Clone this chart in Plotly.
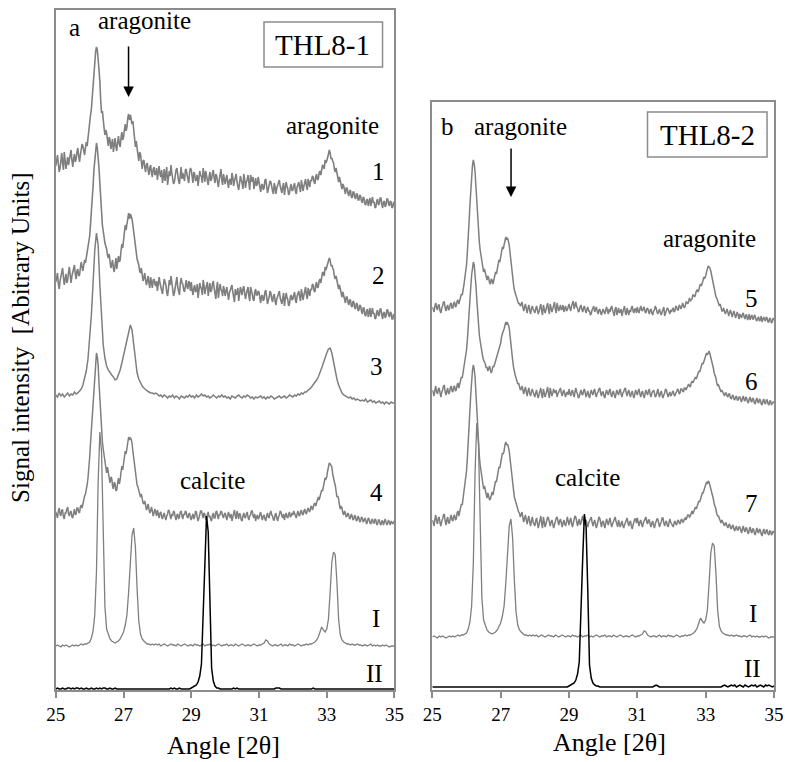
import numpy as np
import plotly.graph_objects as go

W, H = 785, 762

# Diffractogram intensities (arbitrary units, relative to each trace's own baseline).
# Each list covers 25-35 deg 2-theta at an even step (0.025 deg for the raw scans,
# 0.05 deg for the smoother ones); the angle grid is rebuilt from the list length.
sample_1 = [
    44, 49, 55, 46, 38, 42, 51, 57, 47, 40, 58, 52, 41, 47, 53, 45, 49, 56, 60, 50, 43, 51, 56, 48, 51, 58, 62, 54, 48, 55, 59, 66, 64, 58, 55, 62, 68, 64, 73, 79,
    84, 95, 101, 114, 122, 138, 150, 158, 163, 160, 151, 141, 129, 110, 97, 99, 93, 82, 75, 80, 77, 68, 64, 73, 70, 61, 66, 71, 58, 65, 72, 63, 59, 68, 74, 66, 63, 72, 78, 70,
    73, 80, 86, 79, 83, 92, 96, 90, 95, 91, 86, 89, 82, 70, 63, 69, 64, 55, 49, 58, 56, 46, 41, 49, 50, 43, 38, 45, 47, 40, 35, 42, 45, 37, 33, 41, 43, 35, 36, 42,
    30, 38, 44, 36, 33, 40, 27, 33, 41, 29, 36, 43, 25, 32, 39, 34, 45, 37, 31, 26, 28, 35, 40, 42, 34, 29, 26, 38, 43, 31, 37, 33, 29, 40, 41, 35, 32, 27, 38, 42,
    40, 33, 27, 38, 36, 29, 30, 35, 24, 31, 39, 35, 33, 27, 42, 36, 28, 39, 35, 30, 25, 33, 38, 29, 31, 37, 40, 32, 27, 36, 34, 28, 23, 30, 37, 41, 30, 25, 36, 31,
    26, 31, 35, 27, 22, 30, 31, 25, 37, 33, 24, 29, 33, 36, 28, 22, 20, 27, 34, 30, 27, 21, 36, 31, 22, 28, 30, 35, 25, 20, 35, 29, 28, 33, 21, 26, 32, 24, 26, 33,
    29, 23, 18, 25, 26, 20, 22, 30, 31, 24, 17, 21, 24, 29, 28, 22, 19, 16, 27, 23, 16, 22, 25, 28, 30, 24, 20, 17, 23, 27, 15, 21, 28, 24, 21, 15, 17, 23, 26, 19,
    20, 24, 27, 19, 16, 23, 25, 28, 22, 18, 30, 26, 19, 24, 28, 31, 24, 20, 31, 27, 23, 30, 29, 34, 33, 28, 26, 33, 36, 30, 31, 37, 39, 35, 42, 45, 44, 41, 50, 47,
    49, 55, 56, 60, 57, 51, 52, 49, 47, 41, 38, 42, 36, 30, 28, 33, 30, 25, 21, 26, 24, 19, 16, 22, 22, 17, 14, 19, 20, 13, 12, 18, 18, 13, 11, 16, 16, 10, 10, 15,
    14, 9, 7, 13, 12, 6, 5, 10, 11, 4, 9, 12, 4, 8, 13, 7, 8, 2, 3, 9, 11, 5, 6, 12, 12, 6, 2, 8, 9, 3, 5, 11, 11, 6, 4, 9, 8, 2, 3, 8,
    6,
]
sample_2 = [
    38, 44, 47, 36, 31, 39, 44, 50, 52, 43, 35, 41, 46, 37, 40, 48, 53, 45, 37, 44, 48, 53, 55, 46, 41, 49, 51, 44, 45, 52, 58, 53, 49, 55, 60, 57, 62, 67, 71, 77,
    84, 96, 106, 122, 134, 150, 160, 171, 177, 172, 164, 152, 137, 118, 103, 95, 89, 81, 77, 74, 71, 65, 62, 66, 59, 52, 55, 60, 52, 48, 55, 62, 51, 57, 64, 58, 60, 69, 76, 72,
    78, 88, 95, 90, 95, 103, 107, 101, 106, 104, 101, 95, 88, 80, 72, 66, 61, 58, 55, 49, 47, 52, 45, 39, 42, 47, 40, 35, 39, 44, 37, 32, 43, 38, 32, 40, 41, 36, 34, 39,
    29, 36, 43, 37, 32, 27, 26, 34, 41, 38, 35, 28, 24, 31, 40, 35, 44, 38, 30, 24, 27, 33, 39, 43, 33, 28, 25, 36, 42, 37, 36, 30, 28, 34, 40, 33, 31, 39, 37, 29,
    38, 30, 25, 32, 35, 28, 29, 36, 22, 29, 37, 33, 31, 25, 40, 35, 26, 31, 34, 38, 24, 30, 37, 28, 30, 36, 39, 32, 25, 21, 33, 38, 22, 29, 36, 31, 29, 24, 34, 30,
    24, 29, 33, 26, 20, 27, 30, 34, 35, 28, 22, 18, 31, 25, 27, 32, 19, 24, 33, 29, 25, 31, 34, 27, 21, 26, 29, 33, 24, 19, 33, 27, 26, 21, 19, 28, 31, 25, 25, 29,
    28, 22, 17, 24, 25, 19, 21, 28, 30, 23, 16, 20, 23, 29, 27, 21, 18, 24, 26, 19, 15, 21, 24, 28, 29, 22, 19, 16, 22, 27, 14, 20, 27, 23, 20, 14, 16, 23, 25, 20,
    21, 25, 28, 20, 17, 24, 26, 29, 23, 19, 31, 26, 20, 25, 29, 33, 25, 21, 32, 28, 24, 31, 30, 36, 35, 29, 28, 35, 38, 32, 33, 39, 41, 37, 45, 48, 47, 44, 53, 50,
    53, 58, 59, 62, 60, 54, 55, 52, 50, 44, 41, 44, 39, 33, 31, 35, 31, 26, 23, 28, 25, 20, 17, 23, 23, 18, 15, 20, 20, 14, 13, 19, 18, 12, 11, 17, 16, 9, 10, 15,
    14, 9, 6, 12, 12, 5, 4, 9, 11, 3, 8, 12, 3, 7, 12, 6, 7, 1, 2, 8, 10, 4, 5, 11, 11, 5, 1, 7, 8, 2, 4, 10, 10, 5, 3, 8, 7, 1, 1, 6,
    3,
]
sample_3 = [
    10, 8, 12, 9, 11, 8, 10, 12, 9, 11, 10, 13, 11, 12, 14, 16, 20, 26, 34, 46,
    65, 90, 122, 155, 172, 160, 120, 85, 60, 47, 39, 35, 32, 30, 28, 25, 26, 30, 35, 42,
    50, 58, 67, 75, 80, 75, 60, 43, 32, 26, 22, 19, 17, 15, 14, 13, 12, 12, 11, 12,
    11, 9, 10, 8, 10, 9, 7, 9, 8, 10, 7, 9, 8, 6, 9, 8, 7, 9, 8, 10,
    8, 9, 7, 10, 8, 9, 11, 9, 10, 8, 9, 7, 8, 10, 8, 7, 9, 8, 10, 8,
    9, 7, 8, 6, 9, 8, 7, 9, 10, 8, 7, 9, 8, 10, 9, 7, 8, 6, 8, 7,
    8, 9, 7, 8, 6, 8, 7, 9, 8, 6, 7, 8, 9, 7, 8, 9, 7, 8, 10, 9,
    8, 10, 9, 11, 10, 12, 11, 13, 13, 15, 16, 18, 20, 22, 25, 28, 32, 37, 42, 48,
    52, 56, 57, 52, 42, 33, 26, 20, 15, 12, 10, 9, 8, 7, 8, 6, 7, 5, 6, 5,
    4, 5, 4, 6, 3, 4, 5, 3, 4, 2, 3, 4, 2, 3, 1, 3, 2, 1, 3, 2,
    2,
]
sample_4 = [
    13, 9, 7, 14, 17, 11, 9, 15, 15, 8, 6, 12, 12, 16, 18, 11, 9, 13, 14, 8, 7, 12, 16, 10, 11, 17, 17, 13, 12, 18, 20, 17, 22, 26, 29, 31, 35, 40, 47, 56,
    68, 82, 95, 110, 126, 142, 156, 166, 172, 168, 160, 142, 124, 108, 94, 83, 76, 70, 66, 57, 52, 58, 53, 45, 42, 48, 47, 39, 36, 43, 41, 34, 35, 42, 47, 41, 45, 53, 59, 55,
    60, 68, 74, 71, 76, 84, 88, 85, 87, 86, 82, 74, 66, 60, 54, 46, 40, 38, 35, 30, 28, 31, 26, 22, 21, 24, 20, 15, 17, 21, 16, 12, 14, 18, 14, 9, 12, 16, 13, 9,
    15, 10, 7, 12, 13, 8, 6, 10, 12, 8, 5, 9, 11, 15, 14, 9, 6, 11, 9, 14, 13, 8, 5, 10, 11, 6, 8, 13, 14, 9, 6, 11, 10, 14, 13, 8, 7, 11, 12, 7,
    5, 9, 11, 6, 8, 14, 13, 8, 4, 7, 10, 14, 14, 9, 7, 12, 11, 6, 5, 10, 13, 8, 9, 5, 4, 10, 12, 7, 7, 13, 14, 9, 6, 11, 10, 14, 13, 9, 7, 11,
    12, 8, 5, 10, 13, 9, 7, 11, 4, 8, 11, 15, 9, 6, 14, 10, 6, 12, 10, 5, 4, 9, 12, 8, 7, 11, 13, 8, 5, 9, 10, 14, 14, 9, 7, 11, 4, 8, 10, 6,
    7, 11, 13, 8, 5, 9, 10, 6, 4, 9, 12, 8, 7, 12, 14, 10, 9, 5, 5, 10, 12, 7, 4, 8, 10, 14, 13, 9, 7, 11, 5, 9, 12, 8, 7, 11, 13, 8, 9, 12,
    10, 14, 12, 9, 7, 11, 14, 10, 9, 13, 15, 11, 10, 14, 16, 12, 11, 15, 17, 14, 13, 18, 19, 15, 17, 21, 22, 19, 22, 26, 28, 25, 28, 33, 35, 34, 38, 43, 47, 46,
    48, 54, 58, 62, 61, 60, 58, 51, 45, 43, 40, 33, 28, 29, 26, 20, 16, 19, 17, 12, 10, 14, 12, 8, 9, 12, 10, 6, 7, 11, 9, 5, 6, 10, 8, 4, 5, 9, 7, 3,
    4, 8, 7, 3, 4, 7, 5, 1, 3, 7, 6, 2, 1, 5, 6, 2, 2, 6, 5, 0, 1, 5, 5, 1, 0, 4, 4, 0, 3, 6, 3, 0, 2, 5, 2, 0, 4, 3, 1, 3,
    2,
]
sample_5 = [
    15, 12, 10, 16, 19, 14, 12, 17, 17, 11, 9, 14, 16, 20, 20, 14, 11, 15, 17, 12, 13, 18, 19, 14, 14, 19, 20, 15, 16, 21, 22, 18, 21, 26, 28, 27, 31, 37, 44, 50,
    57, 70, 82, 100, 117, 133, 147, 157, 162, 158, 150, 134, 117, 102, 90, 80, 72, 66, 62, 55, 50, 53, 50, 45, 42, 46, 44, 39, 38, 43, 42, 38, 42, 47, 50, 48, 52, 58, 62, 60,
    65, 71, 75, 73, 77, 82, 85, 83, 84, 81, 77, 69, 60, 52, 44, 38, 32, 29, 26, 25, 22, 18, 19, 16, 17, 20, 15, 11, 15, 18, 13, 9, 14, 17, 12, 8, 13, 16, 13, 10,
    9, 13, 16, 12, 8, 11, 14, 18, 11, 7, 17, 13, 9, 12, 15, 19, 12, 8, 18, 14, 10, 13, 16, 20, 13, 9, 19, 15, 11, 14, 17, 12, 13, 17, 10, 14, 16, 11, 12, 15,
    18, 14, 11, 16, 18, 21, 13, 16, 20, 15, 14, 10, 11, 15, 17, 13, 10, 14, 16, 12, 9, 13, 15, 11, 11, 7, 8, 12, 14, 16, 10, 13, 15, 11, 8, 12, 13, 9, 7, 11,
    13, 10, 8, 12, 15, 11, 8, 13, 10, 14, 16, 12, 9, 6, 13, 15, 7, 11, 14, 9, 10, 13, 6, 10, 13, 16, 9, 7, 14, 11, 7, 12, 10, 14, 16, 11, 9, 13, 13, 9,
    15, 11, 9, 13, 16, 12, 11, 14, 15, 10, 9, 13, 14, 11, 8, 12, 13, 9, 7, 11, 12, 16, 14, 10, 8, 11, 13, 9, 7, 10, 12, 15, 6, 9, 11, 14, 13, 10, 8, 12,
    10, 13, 14, 10, 11, 16, 15, 12, 12, 17, 16, 13, 15, 19, 16, 14, 16, 20, 20, 18, 20, 24, 21, 22, 23, 27, 27, 25, 27, 31, 32, 30, 32, 36, 38, 36, 39, 43, 45, 44,
    46, 50, 53, 56, 55, 54, 51, 45, 40, 38, 34, 29, 25, 24, 21, 18, 16, 18, 15, 11, 11, 14, 11, 8, 10, 13, 10, 6, 9, 12, 9, 5, 8, 11, 8, 4, 7, 10, 7, 3,
    8, 5, 4, 8, 9, 5, 3, 7, 7, 2, 4, 8, 2, 5, 7, 3, 3, 7, 6, 2, 1, 4, 5, 1, 2, 6, 0, 3, 5, 2, 1, 5, 4, 0, 0, 4, 3, -1, 0, 4,
    2,
]
sample_6 = [
    15, 11, 9, 15, 19, 13, 11, 16, 17, 12, 8, 13, 15, 19, 20, 13, 10, 14, 17, 11, 12, 17, 19, 14, 13, 18, 19, 14, 15, 20, 22, 17, 22, 26, 28, 27, 32, 37, 43, 49,
    55, 65, 76, 90, 104, 118, 130, 139, 143, 140, 132, 120, 106, 92, 79, 70, 64, 57, 52, 48, 45, 43, 41, 37, 38, 34, 36, 39, 35, 32, 35, 39, 38, 41, 43, 47, 49, 52, 56, 59,
    62, 68, 72, 74, 76, 81, 83, 81, 82, 80, 77, 69, 59, 52, 45, 38, 32, 30, 27, 23, 21, 22, 19, 15, 16, 19, 15, 11, 15, 18, 13, 9, 14, 17, 12, 9, 13, 16, 13, 10,
    8, 12, 15, 10, 7, 11, 14, 17, 10, 7, 16, 12, 8, 11, 15, 18, 11, 7, 17, 13, 9, 12, 16, 13, 12, 15, 8, 11, 13, 16, 17, 12, 9, 13, 15, 11, 8, 12, 13, 10,
    16, 12, 9, 13, 15, 11, 8, 13, 17, 13, 11, 7, 8, 12, 15, 11, 10, 14, 16, 12, 8, 11, 14, 10, 7, 11, 15, 12, 10, 14, 16, 11, 8, 12, 13, 16, 17, 12, 9, 13,
    13, 9, 7, 12, 15, 12, 10, 14, 16, 11, 8, 12, 14, 10, 7, 11, 15, 12, 10, 14, 16, 11, 8, 12, 13, 16, 17, 12, 9, 13, 15, 11, 8, 12, 14, 10, 7, 11, 15, 12,
    10, 14, 16, 11, 8, 12, 14, 10, 7, 11, 15, 12, 10, 14, 16, 11, 8, 12, 14, 15, 12, 8, 9, 13, 16, 11, 8, 12, 14, 10, 7, 10, 12, 16, 15, 11, 8, 11, 13, 9,
    10, 13, 14, 10, 9, 12, 13, 16, 15, 11, 12, 16, 16, 14, 13, 17, 17, 15, 17, 20, 21, 19, 18, 22, 24, 22, 24, 27, 28, 26, 29, 32, 34, 33, 36, 40, 42, 41, 44, 47,
    49, 52, 50, 53, 54, 51, 48, 45, 42, 37, 32, 30, 27, 22, 19, 20, 18, 15, 13, 15, 13, 10, 9, 12, 12, 9, 8, 11, 11, 7, 6, 9, 10, 6, 5, 8, 9, 5, 5, 8,
    8, 5, 3, 7, 9, 5, 4, 8, 7, 3, 2, 6, 8, 4, 3, 7, 6, 2, 1, 5, 7, 3, 2, 6, 5, 1, 0, 4, 6, 2, 1, 5, 5, 1, 0, 4, 4, 0, 1, 3,
    2,
]
sample_7 = [
    15, 11, 9, 16, 20, 14, 11, 17, 18, 12, 9, 14, 16, 20, 21, 14, 10, 15, 18, 12, 12, 17, 20, 15, 14, 19, 20, 15, 16, 22, 24, 19, 24, 28, 31, 30, 36, 42, 49, 56,
    64, 77, 90, 108, 125, 141, 155, 165, 170, 166, 158, 141, 122, 105, 90, 79, 70, 64, 59, 51, 46, 49, 45, 40, 37, 42, 39, 35, 36, 41, 43, 40, 44, 50, 54, 53, 57, 63, 68, 67,
    71, 78, 82, 81, 84, 90, 93, 90, 91, 88, 84, 76, 67, 58, 50, 43, 38, 35, 31, 27, 26, 23, 22, 18, 20, 23, 17, 13, 17, 20, 15, 11, 16, 19, 13, 9, 14, 18, 13, 10,
    9, 14, 17, 12, 7, 11, 15, 19, 11, 7, 18, 13, 8, 11, 14, 18, 17, 12, 9, 13, 15, 11, 7, 10, 14, 17, 18, 13, 10, 14, 16, 12, 8, 12, 15, 11, 9, 13, 18, 14,
    10, 14, 17, 12, 8, 12, 15, 19, 18, 13, 9, 13, 16, 10, 12, 16, 19, 14, 10, 13, 15, 11, 8, 12, 14, 17, 18, 13, 9, 12, 15, 11, 7, 10, 14, 18, 17, 12, 8, 13,
    14, 10, 7, 12, 16, 13, 10, 14, 17, 12, 8, 11, 14, 17, 18, 14, 11, 8, 15, 12, 8, 11, 14, 10, 7, 10, 13, 16, 17, 12, 9, 13, 14, 9, 6, 10, 13, 16, 16, 12,
    17, 12, 9, 13, 15, 11, 8, 12, 14, 17, 18, 13, 11, 15, 15, 11, 8, 12, 14, 10, 7, 11, 13, 16, 16, 12, 8, 11, 13, 17, 17, 12, 9, 13, 14, 10, 8, 12, 16, 13,
    11, 9, 8, 12, 14, 11, 10, 14, 15, 12, 11, 15, 16, 13, 13, 16, 17, 15, 17, 20, 20, 18, 19, 23, 24, 21, 24, 27, 28, 26, 29, 33, 34, 33, 36, 40, 42, 42, 45, 48,
    50, 53, 51, 54, 53, 50, 47, 44, 41, 36, 31, 29, 26, 21, 19, 19, 17, 14, 12, 15, 13, 10, 9, 12, 12, 9, 7, 10, 11, 7, 6, 9, 10, 6, 4, 7, 9, 5, 5, 8,
    8, 5, 2, 6, 9, 5, 3, 7, 7, 3, 1, 5, 8, 4, 2, 6, 6, 2, 0, 4, 7, 3, 2, 6, 5, 1, -1, 3, 6, 2, 1, 5, 5, 1, 0, 4, 4, 0, 1, 4,
    2,
]
# Reference patterns: I = aragonite, II = calcite
ref_aragonite = [
    1, 2, 1, 0, 2, 1, 2, 1, 0, 1, 2, 1, 2, 1, 2, 3, 2, 3, 3, 4,
    5, 9, 16, 32, 75, 165, 215, 195, 105, 40, 18, 12, 8, 6, 5, 4, 5, 6, 8, 11,
    15, 22, 32, 55, 88, 112, 119, 100, 58, 26, 13, 8, 6, 4, 3, 3, 2, 3, 2, 3,
    2, 3, 1, 2, 3, 2, 1, 2, 3, 2, 2, 1, 3, 2, 1, 2, 3, 2, 1, 2,
    2, 1, 3, 2, 2, 1, 2, 3, 1, 2, 2, 3, 1, 2, 1, 2, 3, 2, 1, 2,
    2, 3, 1, 2, 2, 1, 3, 2, 1, 2, 3, 2, 1, 2, 2, 1, 2, 3, 2, 1,
    2, 2, 3, 4, 7, 6, 3, 2, 1, 2, 2, 1, 2, 3, 1, 2, 2, 1, 3, 2,
    2, 1, 2, 3, 2, 1, 2, 2, 3, 2, 3, 3, 4, 5, 7, 10, 15, 20, 17, 15,
    18, 28, 55, 85, 95, 92, 65, 28, 12, 7, 5, 4, 3, 3, 2, 3, 2, 2, 3, 2,
    2, 1, 2, 2, 1, 2, 3, 1, 2, 1, 2, 1, 1, 2, 1, 2, 1, 0, 1, 1,
    1,
]
ref_calcite_a = [
    1, 2, 1, 1, 2, 1, 1, 2, 2, 1, 2, 1, 2, 2, 1, 2, 1, 1, 2, 1,
    1, 2, 1, 1, 2, 1, 2, 1, 2, 2, 1, 1, 2, 1, 1, 2, 1, 1, 1, 1,
    1, 1, 1, 1, 1, 1, 1, 1, 1, 1, 1, 1, 1, 1, 1, 1, 1, 1, 1, 1,
    1, 1, 1, 1, 1, 1, 1, 1, 2, 1, 2, 1, 1, 2, 1, 1, 1, 1, 1, 1,
    2, 3, 4, 5, 8, 14, 26, 70, 130, 174, 158, 95, 22, 9, 4, 2, 2, 1, 1, 1,
    1, 1, 1, 1, 1, 2, 1, 2, 1, 1, 1, 1, 1, 1, 1, 1, 1, 1, 1, 1,
    1, 1, 1, 1, 1, 1, 1, 1, 1, 1, 2, 2, 2, 1, 1, 1, 1, 1, 1, 1,
    1, 1, 1, 1, 1, 1, 1, 1, 1, 1, 1, 1, 2, 1, 1, 1, 1, 1, 1, 1,
    1, 1, 1, 1, 1, 1, 1, 1, 1, 1, 1, 1, 1, 1, 1, 1, 1, 1, 1, 1,
    1, 1, 1, 1, 1, 1, 1, 1, 1, 1, 1, 1, 1, 1, 1, 1, 1, 1, 1, 1,
    1,
]
ref_calcite_b = [
    0, 0, 0, 0, 0, 0, 0, 0, 0, 0, 0, 0, 0, 0, 0, 0, 0, 0, 0, 0,
    0, 0, 0, 0, 0, 0, 0, 0, 0, 0, 0, 0, 0, 0, 0, 0, 0, 0, 0, 0,
    0, 0, 0, 0, 0, 0, 0, 0, 0, 0, 0, 0, 0, 0, 0, 0, 0, 0, 0, 0,
    0, 0, 0, 0, 0, 0, 0, 0, 0, 0, 0, 0, 0, 0, 0, 0, 0, 0, 0, 0,
    1, 2, 3, 4, 7, 13, 25, 68, 128, 173, 160, 96, 22, 9, 4, 2, 1, 1, 0, 0,
    0, 0, 0, 0, 0, 0, 0, 0, 0, 0, 0, 0, 0, 0, 0, 0, 0, 0, 0, 0,
    0, 0, 0, 0, 0, 0, 0, 0, 0, 0, 1, 2, 1, 0, 0, 0, 0, 0, 0, 0,
    0, 0, 0, 0, 0, 0, 0, 0, 0, 0, 0, 0, 0, 0, 0, 0, 0, 0, 0, 0,
    0, 0, 0, 0, 0, 0, 0, 0, 0, 0, 1, 2, 1, 0, 1, 2, 1, 2, 0, 1,
    2, 1, 0, 2, 1, 0, 1, 2, 1, 2, 0, 1, 2, 1, 0, 2, 1, 2, 1, 0,
    1,
]

x_ticks = [25, 27, 29, 31, 33, 35]

GRAY = "#7f7f7f"
FRAME = "#8c8c8c"
SERIF = "Liberation Serif, Times New Roman, DejaVu Serif, serif"

# vertical stacking of the traces inside each panel
panel_a = [
    (sample_1, 480, GRAY, 1.6),
    (sample_2, 370, GRAY, 1.6),
    (sample_3, 285, GRAY, 1.5),
    (sample_4, 165, GRAY, 1.5),
    (ref_aragonite, 43, GRAY, 1.3),
    (ref_calcite_a, 0, "black", 1.5),
]
panel_b = [
    (sample_5, 368, GRAY, 1.5),
    (sample_6, 285, GRAY, 1.5),
    (sample_7, 155, GRAY, 1.5),
    (ref_aragonite, 52, GRAY, 1.3),
    (ref_calcite_b, 3, "black", 1.5),
]

fig = go.Figure()
for traces, xa, ya in ((panel_a, "x", "y"), (panel_b, "x2", "y2")):
    for vals, off, col, lw in traces:
        angle = np.linspace(25.0, 35.0, len(vals))
        fig.add_trace(go.Scatter(
            x=angle, y=np.array(vals, dtype=float) + off, mode="lines",
            line=dict(color=col, width=lw), xaxis=xa, yaxis=ya,
            showlegend=False, hoverinfo="skip",
        ))

# page-pixel to paper-coordinate helpers (graph div sits 8 px in, 769 px wide)
def PX(xp):
    return (xp - 8) / 769


def PY(yp):
    return 1 - yp / H


axis_common = dict(
    showline=True, linecolor=FRAME, linewidth=2, mirror=True,
    showgrid=False, zeroline=False,
)
xcommon = dict(
    axis_common, range=[25, 35], tickvals=x_ticks, ticks="outside",
    ticklen=6, tickcolor=FRAME, tickwidth=1.5,
    tickfont=dict(family=SERIF, size=19, color="black"),
)
ycommon = dict(axis_common, showticklabels=False, ticks="")

fig.update_layout(
    width=W, height=H, margin=dict(l=0, r=0, t=0, b=0),
    paper_bgcolor="white", plot_bgcolor="white",
    xaxis=dict(xcommon, domain=[PX(54), PX(394)], anchor="y"),
    yaxis=dict(ycommon, domain=[PY(690), PY(10)], range=[0, 680], anchor="x"),
    xaxis2=dict(xcommon, domain=[PX(432), PX(775)], anchor="y2"),
    yaxis2=dict(ycommon, domain=[PY(690), PY(102)], range=[0, 588], anchor="x2"),
)

labels = [
    ("a", 73, 28, 25), ("aragonite", 143, 20, 25), ("aragonite", 332, 125, 25),
    ("1", 378, 172, 25), ("2", 378, 275, 25), ("3", 376, 367, 25),
    ("4", 376, 492, 25), ("calcite", 211, 480, 25), ("I", 375, 618, 25),
    ("II", 374, 673, 25),
    ("b", 447, 126, 25), ("aragonite", 521, 126, 25), ("aragonite", 710, 238, 25),
    ("5", 752, 298, 25), ("6", 752, 381, 25), ("7", 752, 503, 25),
    ("calcite", 588, 477, 25), ("I", 754, 613, 25), ("II", 753, 668, 25),
    ("THL8-1", 322, 45, 29), ("THL8-2", 708, 135, 29),
    ("Angle [2θ]", 222, 745, 26), ("Angle [2θ]", 610, 742, 26),
]
ann = []
for txt, xp, yp, fs in labels:
    ann.append(dict(text=txt, x=PX(xp), y=PY(yp), xref="paper", yref="paper",
                    showarrow=False, xanchor="center", yanchor="middle",
                    font=dict(family=SERIF, size=fs, color="black")))
ann.append(dict(text="Signal intensity  [Abitrary Units]", x=PX(18), y=PY(337),
                xref="paper", yref="paper", showarrow=False, textangle=-90,
                xanchor="center", yanchor="middle",
                font=dict(family=SERIF, size=25, color="black")))
for xp, y_tail, y_head in ((127, 45, 97), (511, 147, 197)):
    ann.append(dict(text="", x=PX(xp), y=PY(y_head), xref="paper", yref="paper",
                    ax=0, ay=-(y_head - y_tail), showarrow=True,
                    arrowhead=2, arrowsize=1.4, arrowwidth=1.5,
                    arrowcolor="black", standoff=0))
fig.update_layout(annotations=ann)

shapes = []
for x0, y0, x1, y1 in ((263, 22, 382, 67), (648, 112, 768, 157)):
    shapes.append(dict(type="rect", xref="paper", yref="paper",
                       x0=PX(x0), x1=PX(x1), y0=PY(y1), y1=PY(y0),
                       line=dict(color=FRAME, width=1.5), fillcolor="white",
                       layer="above"))
fig.update_layout(shapes=shapes)

fig.write_html("out.html")
